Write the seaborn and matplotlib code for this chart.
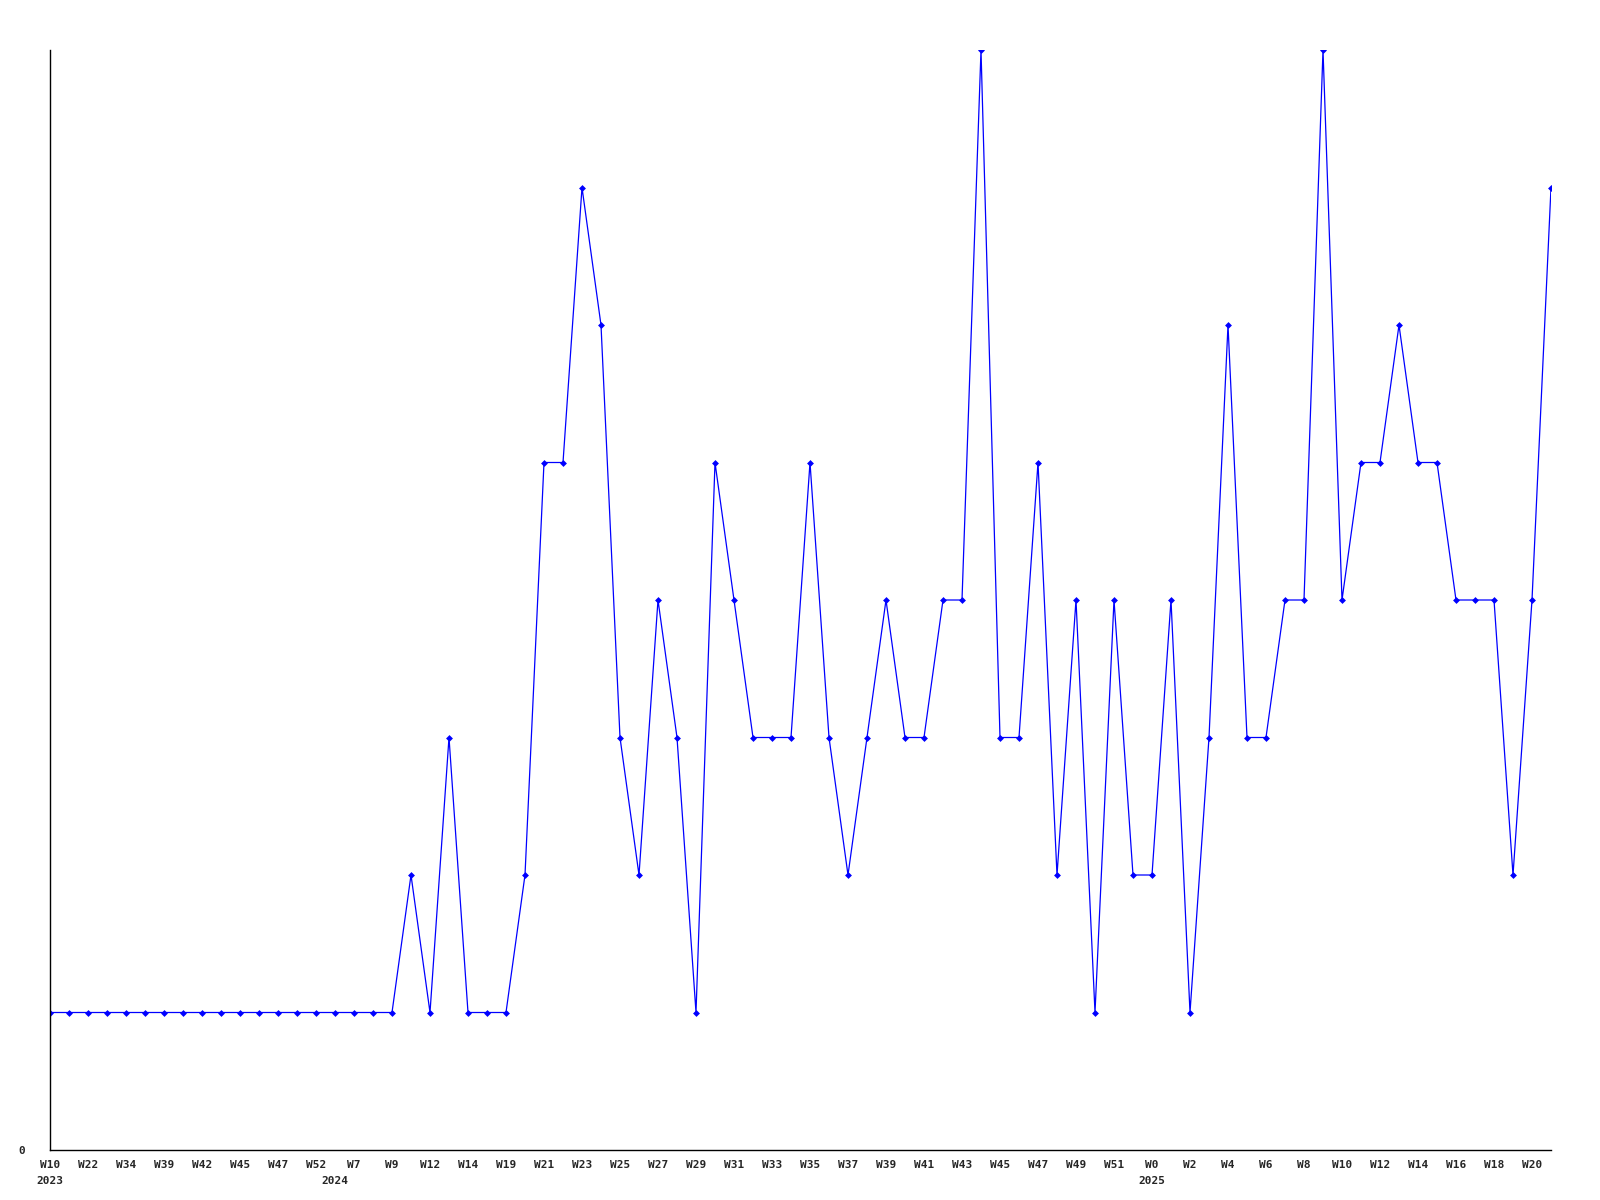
import numpy as np
import seaborn as sns
import matplotlib.pyplot as plt

# weekly counts, one per point (80 weeks)
counts = [1, 1, 1, 1, 1, 1, 1, 1, 1, 1,
          1, 1, 1, 1, 1, 1, 1, 1, 1, 2,
          1, 3, 1, 1, 1, 2, 5, 5, 7, 6,
          3, 2, 4, 3, 1, 5, 4, 3, 3, 3,
          5, 3, 2, 3, 4, 3, 3, 4, 4, 8,
          3, 3, 5, 2, 4, 1, 4, 2, 2, 4,
          1, 3, 6, 3, 3, 4, 4, 8, 4, 5,
          5, 6, 5, 5, 4, 4, 4, 2, 4, 7]

# labels shown on every second point
week_labels = ['W10', 'W22', 'W34', 'W39', 'W42', 'W45', 'W47', 'W52', 'W7', 'W9',
               'W12', 'W14', 'W19', 'W21', 'W23', 'W25', 'W27', 'W29', 'W31', 'W33',
               'W35', 'W37', 'W39', 'W41', 'W43', 'W45', 'W47', 'W49', 'W51', 'W0',
               'W2', 'W4', 'W6', 'W8', 'W10', 'W12', 'W14', 'W16', 'W18', 'W20']

years = ['2023', '2024', '2025']
year_start = [0, 15, 58]  # index of first week in each year

x = np.arange(len(counts))

sns.set_style("white")
plt.rcParams['font.family'] = ['DejaVu Sans Mono']

fig = plt.figure(figsize=(16, 12), dpi=100)
ax = fig.add_axes([50 / 1600, 50 / 1200, 1501 / 1600, 1100 / 1200])

sns.lineplot(x=x, y=counts, ax=ax, color='#0000ff', linewidth=0.9,
             marker='D', markersize=3.5, markeredgewidth=0, markerfacecolor='#0000ff')

ax.set_xlim(0, len(counts) - 1)
ax.set_ylim(0, max(counts))

ax.set_xticks(x[::2])
ax.set_xticklabels(week_labels, fontsize=8, fontweight='bold')
ax.set_yticks([0])
ax.set_yticklabels(['0'], fontsize=8, fontweight='bold')
ax.tick_params(axis='x', length=0, pad=7)
ax.tick_params(axis='y', length=0, pad=18)

for yr, idx in zip(years, year_start):
    ax.text(idx, -0.0282, yr, transform=ax.get_xaxis_transform(),
            ha='center', va='center', fontsize=8, fontweight='bold')

for side in ['top', 'right']:
    ax.spines[side].set_visible(False)
for side in ['left', 'bottom']:
    ax.spines[side].set_color('black')
    ax.spines[side].set_linewidth(1)

ax.set_xlabel('')
ax.set_ylabel('')

plt.savefig("out.png", dpi=100)
